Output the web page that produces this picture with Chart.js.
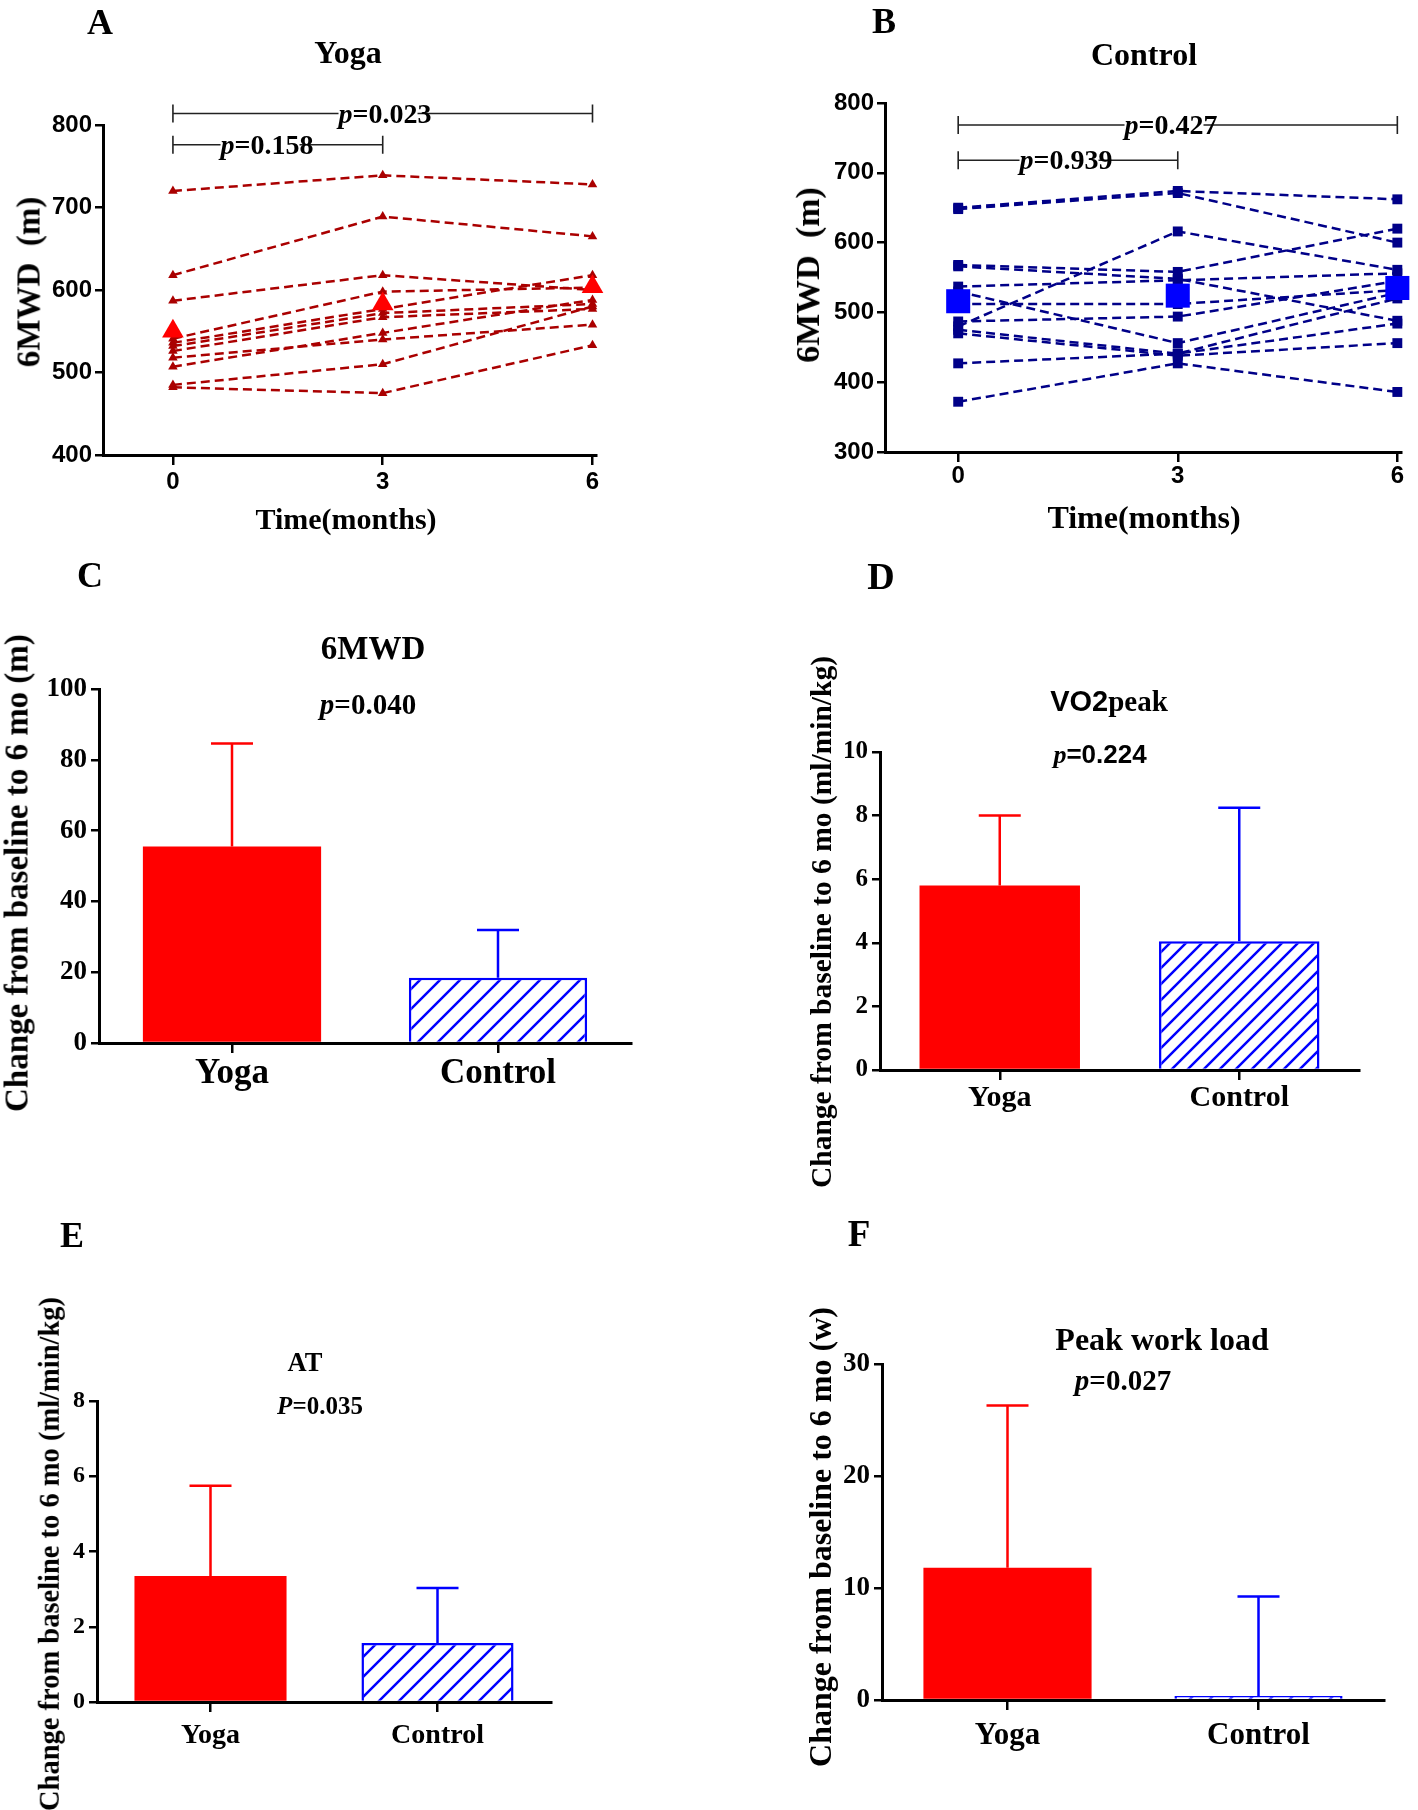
<!DOCTYPE html>
<html lang="en">
<head>
<meta charset="UTF-8" />
<title>Yoga vs Control: 6MWD, VO2peak, AT, Peak work load</title>
<script src="https://cdn.jsdelivr.net/npm/chart.js"></script>
<style>
  body { margin: 0; background: #fff; }
  .page { position: relative; width: 1418px; height: 1810px; overflow: hidden; font-family: 'Liberation Serif', 'Times New Roman', serif; font-weight: bold; color: #000; }
  .page canvas { position: absolute; }
  .txt { position: absolute; transform: translate(-50%, -50%); white-space: nowrap; line-height: 1; }
  .rot { transform: translate(-50%, -50%) rotate(-90deg); }
  .letter { font-size: 36px; }
  .sans { font-family: 'Liberation Sans', Arial, sans-serif; }
  .bg { background: #fff; }
</style>
</head>
<body>
<div class="page">
  <canvas id="cA" width="709" height="540" style="left:0;top:0"></canvas>
  <canvas id="cB" width="709" height="540" style="left:709px;top:0"></canvas>
  <canvas id="cC" width="709" height="640" style="left:0;top:540px"></canvas>
  <canvas id="cD" width="709" height="660" style="left:709px;top:540px"></canvas>
  <canvas id="cE" width="709" height="630" style="left:0;top:1180px"></canvas>
  <canvas id="cF" width="709" height="610" style="left:709px;top:1200px"></canvas>

  <!-- A -->
  <div class="txt letter" style="left:100px;top:22px">A</div>
  <div class="txt" style="left:348px;top:52px;font-size:32px">Yoga</div>
  <div class="txt rot" style="left:29px;top:282px;font-size:33px">6MWD&nbsp;&nbsp;(m)</div>
  <div class="txt" style="left:346px;top:519px;font-size:30px">Time(months)</div>
  <div class="txt" style="left:385px;top:114px;font-size:28px"><span class="bg"><i>p</i>=0.02</span>3</div>
  <div class="txt" style="left:267px;top:145px;font-size:28px"><span class="bg"><i>p</i>=0.15</span>8</div>

  <!-- B -->
  <div class="txt letter" style="left:884px;top:21px">B</div>
  <div class="txt" style="left:1144px;top:54px;font-size:32px">Control</div>
  <div class="txt rot" style="left:808px;top:275px;font-size:34px">6MWD&nbsp;&nbsp;(m)</div>
  <div class="txt" style="left:1144px;top:517px;font-size:32px">Time(months)</div>
  <div class="txt" style="left:1171px;top:125px;font-size:28px"><span class="bg"><i>p</i>=0.42</span>7</div>
  <div class="txt" style="left:1066px;top:160px;font-size:28px"><span class="bg"><i>p</i>=0.93</span>9</div>

  <!-- C -->
  <div class="txt letter" style="left:90px;top:575px">C</div>
  <div class="txt" style="left:373px;top:648px;font-size:33px">6MWD</div>
  <div class="txt" style="left:368px;top:704px;font-size:29px"><i>p</i>=0.040</div>
  <div class="txt rot" style="left:17px;top:873px;font-size:33px">Change from baseline to 6 mo (m)</div>

  <!-- D -->
  <div class="txt letter" style="left:881px;top:576px;font-size:38px">D</div>
  <div class="txt" style="left:1109px;top:701px;font-size:29px"><span class="sans">VO2</span>peak</div>
  <div class="txt" style="left:1100px;top:754px;font-size:26px"><i>p</i><span class="sans">=0.224</span></div>
  <div class="txt rot" style="left:822px;top:922px;font-size:29.5px">Change from baseline to 6 mo (ml/min/kg)</div>

  <!-- E -->
  <div class="txt letter" style="left:72px;top:1235px">E</div>
  <div class="txt" style="left:305px;top:1362px;font-size:26.5px">AT</div>
  <div class="txt" style="left:320px;top:1405px;font-size:25px"><i>P</i>=0.035</div>
  <div class="txt rot" style="left:50px;top:1554px;font-size:28.5px">Change from baseline to 6 mo (ml/min/kg)</div>

  <!-- F -->
  <div class="txt letter" style="left:859px;top:1233px;font-size:37px">F</div>
  <div class="txt" style="left:1162px;top:1339px;font-size:32px">Peak work load</div>
  <div class="txt" style="left:1123px;top:1380px;font-size:29px"><i>p</i>=0.027</div>
  <div class="txt rot" style="left:820px;top:1537px;font-size:32px">Change from baseline to 6 mo (w)</div>
</div>

<script>
  // ---- data ----
  const months = [0, 3, 6];
  // 6MWD (m) per patient at 0, 3, 6 months
  const yogaWalk = [
    [720, 739, 728],
    [618, 689, 665],
    [587, 618, 600],
    [541, 598, 603],
    [536, 577, 618],
    [532, 572, 583],
    [526, 567, 577],
    [518, 540, 558],
    [507, 548, 588],
    [485, 510, 580],
    [482, 475, 533]
  ];
  const yogaMean = [550, 583, 604];
  const controlWalk = [
    [650, 674, 662],
    [648, 671, 600],
    [568, 558, 620],
    [566, 548, 488],
    [537, 546, 556],
    [530, 456, 528],
    [512, 512, 532],
    [487, 494, 545],
    [480, 616, 561],
    [475, 441, 520],
    [470, 438, 456],
    [427, 441, 484],
    [372, 427, 386]
  ];
  const controlMean = [516, 524, 535];
  const yogaTicks = [400, 500, 600, 700, 800];
  const controlTicks = [300, 400, 500, 600, 700, 800];

  // change from baseline to 6 months: mean and SD (upper bar only)
  const groups = ['Yoga', 'Control'];
  const walkChange = [55.5, 18.4];
  const walkChangeSd = [29.1, 13.5];
  const walkTicks = [0, 20, 40, 60, 80, 100];
  const vo2Change = [5.8, 4.05];
  const vo2ChangeSd = [2.2, 4.2];
  const vo2Ticks = [0, 2, 4, 6, 8, 10];
  const atChange = [3.35, 1.57];
  const atChangeSd = [2.4, 1.46];
  const atTicks = [0, 2, 4, 6, 8];
  const workChange = [11.8, 0.35];
  const workChangeSd = [14.5, 8.9];
  const workTicks = [0, 10, 20, 30];

  const SERIF = "'Liberation Serif', 'Times New Roman', serif";
  const SANS = "'Liberation Sans', Arial, sans-serif";
  Chart.defaults.font.family = SERIF;
  Chart.defaults.font.weight = 'bold';
  Chart.defaults.color = '#000';

  const setTicks = arr => s => { s.ticks = arr.map(v => ({ value: v })); };
  // the axes take exactly the room left of / below the plot area
  const fixWidth = w => s => { s.width = w; };
  const fixHeight = h => s => { s.height = h; };

  function axisLook(tickLength) {
    return {
      grid: { display: true, drawOnChartArea: false, drawTicks: true, tickLength, color: '#000', lineWidth: 2.5, offset: false },
      border: { display: true, color: '#000', width: 3 }
    };
  }

  // brackets with end ticks above the line plots
  const brackets = {
    id: 'brackets',
    afterDraw(chart, args, opts) {
      if (!opts.items) return;
      const { ctx } = chart, x = chart.scales.x, y = chart.scales.y;
      ctx.save();
      ctx.strokeStyle = '#222';
      ctx.lineWidth = 1.6;
      opts.items.forEach(b => {
        const x1 = x.getPixelForValue(b.from), x2 = x.getPixelForValue(b.to), yy = y.getPixelForValue(b.level);
        ctx.beginPath();
        ctx.moveTo(x1, yy); ctx.lineTo(x2, yy);
        ctx.moveTo(x1, yy - 9); ctx.lineTo(x1, yy + 9);
        ctx.moveTo(x2, yy - 9); ctx.lineTo(x2, yy + 9);
        ctx.stroke();
      });
      ctx.restore();
    }
  };

  // upward SD bars on the bar plots
  const errorBars = {
    id: 'errorBars',
    afterDatasetsDraw(chart) {
      const { ctx } = chart, y = chart.scales.y;
      const ds = chart.data.datasets[0];
      if (!ds.sd) return;
      const meta = chart.getDatasetMeta(0);
      ctx.save();
      ctx.lineWidth = 2.5;
      meta.data.forEach((bar, i) => {
        const top = y.getPixelForValue(ds.data[i] + ds.sd[i]);
        ctx.strokeStyle = ds.errColor[i];
        ctx.beginPath();
        ctx.moveTo(bar.x, bar.y); ctx.lineTo(bar.x, top);
        ctx.moveTo(bar.x - 21, top); ctx.lineTo(bar.x + 21, top);
        ctx.stroke();
      });
      ctx.restore();
    }
  };
  Chart.register(brackets, errorBars);

  function walkSets(rows, mean, line, big, style, r, R) {
    const sets = rows.map(row => ({
      data: row.map((v, i) => ({ x: months[i], y: v })),
      borderColor: line, borderWidth: 2.5, borderDash: [9, 5],
      pointStyle: style, pointRadius: r, pointBackgroundColor: line,
      pointBorderColor: line, pointBorderWidth: 0, tension: 0, clip: false
    }));
    sets.push({
      data: mean.map((v, i) => ({ x: months[i], y: v })),
      showLine: false, pointStyle: style, pointRadius: R,
      pointBackgroundColor: big, pointBorderColor: big, pointBorderWidth: 0,
      order: -1, clip: false
    });
    return sets;
  }

  // area = plot box inside the canvas: left, top, right, bottom
  function walkChart(id, sets, ticks, area, xPad, items) {
    const cv = document.getElementById(id);
    new Chart(cv, {
      type: 'line',
      data: { datasets: sets },
      options: {
        responsive: false, animation: false, events: [], devicePixelRatio: 1,
        layout: { padding: { left: 0, top: area.top, right: cv.width - area.right, bottom: 0 } },
        plugins: { legend: { display: false }, tooltip: { enabled: false }, brackets: { items } },
        scales: {
          x: Object.assign({
            type: 'linear', min: -1, max: 6.05,
            afterBuildTicks: setTicks(months), afterFit: fixHeight(cv.height - area.bottom),
            ticks: { font: { family: SANS, size: 24, weight: 'bold' }, padding: xPad, maxRotation: 0 }
          }, axisLook(10)),
          y: Object.assign({
            type: 'linear', min: ticks[0], max: ticks[ticks.length - 1],
            afterBuildTicks: setTicks(ticks), afterFit: fixWidth(area.left),
            ticks: { font: { family: SANS, size: 24, weight: 'bold' }, padding: 3 }
          }, axisLook(8))
        }
      }
    });
  }

  walkChart('cA', walkSets(yogaWalk, yogaMean, '#aa0000', '#ff0000', 'triangle', 5.5, 12.5), yogaTicks,
    { left: 103, top: 125, right: 596, bottom: 455 }, 3,
    [{ from: 0, to: 6, level: 814 }, { from: 0, to: 3, level: 776 }]);
  walkChart('cB', walkSets(controlWalk, controlMean, '#000088', '#0000ff', 'rect', 7, 17), controlTicks,
    { left: 176, top: 103, right: 701, bottom: 452 }, 0,
    [{ from: 0, to: 6, level: 768.5 }, { from: 0, to: 3, level: 718 }]);

  function hatch(id, step) {
    const tile = document.createElement('canvas');
    tile.width = step; tile.height = step;
    const g = tile.getContext('2d');
    g.fillStyle = '#fff'; g.fillRect(0, 0, step, step);
    g.strokeStyle = '#0000ff'; g.lineWidth = 2.5;
    g.beginPath();
    g.moveTo(0, step); g.lineTo(step, 0);
    g.moveTo(-step / 2, step / 2); g.lineTo(step / 2, -step / 2);
    g.moveTo(step / 2, step * 1.5); g.lineTo(step * 1.5, step / 2);
    g.stroke();
    return document.getElementById(id).getContext('2d').createPattern(tile, 'repeat');
  }

  function changeChart(id, values, sd, ticks, area, tickSize, labelSize, labelPad, step) {
    const cv = document.getElementById(id);
    new Chart(cv, {
      type: 'bar',
      data: {
        labels: groups,
        datasets: [{
          data: values, sd,
          backgroundColor: ['#ff0000', hatch(id, step)],
          borderColor: ['#ff0000', '#0000ff'],
          borderWidth: [0, 2.5],
          errColor: ['#ff0000', '#0000ff'],
          barPercentage: 0.67, categoryPercentage: 1
        }]
      },
      options: {
        responsive: false, animation: false, events: [], devicePixelRatio: 1,
        layout: { padding: { left: 0, top: area.top, right: cv.width - area.right, bottom: 0 } },
        plugins: { legend: { display: false }, tooltip: { enabled: false } },
        scales: {
          x: Object.assign({
            afterFit: fixHeight(cv.height - area.bottom),
            ticks: { font: { family: SERIF, size: labelSize, weight: 'bold' }, padding: labelPad, maxRotation: 0 }
          }, axisLook(10)),
          y: Object.assign({
            min: ticks[0], max: ticks[ticks.length - 1],
            afterBuildTicks: setTicks(ticks), afterFit: fixWidth(area.left),
            ticks: { font: { family: SERIF, size: tickSize, weight: 'bold' }, padding: 4 }
          }, axisLook(8))
        }
      }
    });
  }

  changeChart('cC', walkChange, walkChangeSd, walkTicks, { left: 99, top: 149, right: 631, bottom: 503 }, 27, 35, 0, 20);
  changeChart('cD', vo2Change, vo2ChangeSd, vo2Ticks, { left: 171, top: 212, right: 650, bottom: 530 }, 25, 30, 0, 16);
  changeChart('cE', atChange, atChangeSd, atTicks, { left: 97, top: 221, right: 551, bottom: 522 }, 24, 28, 7, 20);
  changeChart('cF', workChange, workChangeSd, workTicks, { left: 173, top: 164, right: 675, bottom: 500 }, 27, 31, 7, 20);
</script>
</body>
</html>
